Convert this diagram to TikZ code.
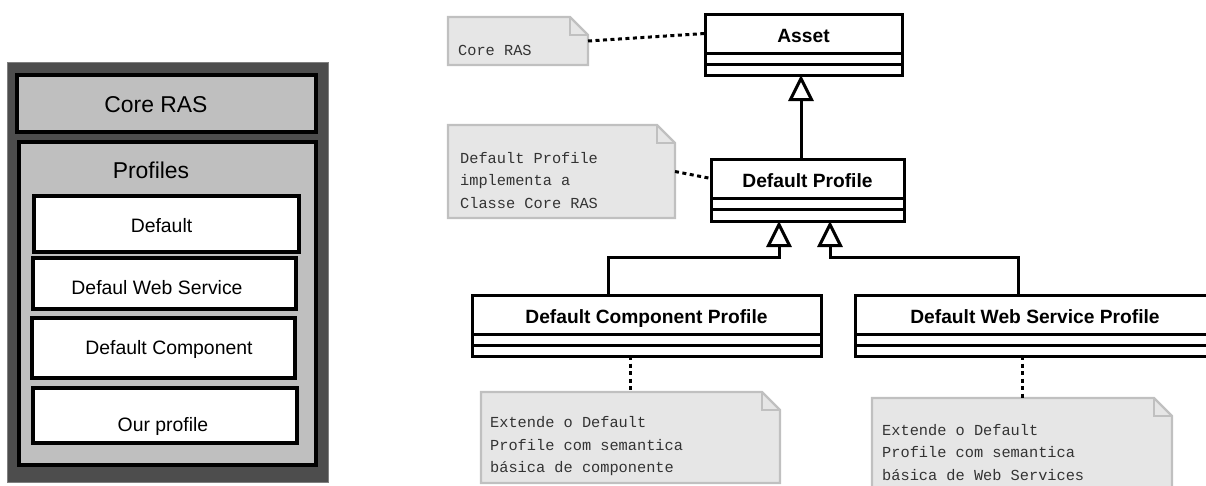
\documentclass[tikz,border=0pt]{standalone}
\usepackage{fontspec}
\setmainfont{Liberation Sans}
\newfontfamily\notefont{Liberation Mono}
\usetikzlibrary{arrows.meta}
\definecolor{paneldark}{HTML}{4D4D4D}
\definecolor{panellight}{HTML}{BFBFBF}
\definecolor{notefill}{HTML}{E6E6E6}
\definecolor{noteline}{HTML}{C0C0C0}
\definecolor{notetext}{HTML}{333333}
% folded-corner outline of a note node
\newcommand\drawnote[1]{%
  \draw[noteborder] (#1.north west) -- ([xshift=-18pt]#1.north east)
    -- ([yshift=-18pt]#1.north east) -- (#1.south east) -- (#1.south west) -- cycle;
  \draw[noteborder, fill=none] ([xshift=-18pt]#1.north east) |- ([yshift=-18pt]#1.north east);}
\begin{document}
\begin{tikzpicture}[x=1pt,y=-1pt,
  panelbox/.style={draw=black, line width=3.2pt, anchor=north west, inner sep=0pt, outer sep=0pt},
  paneltext/.style={anchor=base, inner sep=0pt, font=\fontsize{19.4pt}{23pt}\selectfont},
  paneltitle/.style={anchor=base, inner sep=0pt, font=\fontsize{22.9pt}{27pt}\selectfont},
  cls/.style={draw=black, fill=white, line width=3pt, anchor=north west, inner sep=0pt, outer sep=0pt},
  clsname/.style={cls, text height=17pt, text depth=0pt, font=\bfseries\fontsize{19.2pt}{23pt}\selectfont},
  notebox/.style={anchor=north west, inner sep=0pt, outer sep=0pt},
  noteborder/.style={draw=noteline, fill=notefill, line width=2.2pt, line join=miter},
  notetxt/.style={anchor=west, inner sep=0pt, align=left, text=notetext,
    font=\notefont\fontsize{15.3pt}{22.5pt}\selectfont},
  dotlink/.style={draw=black, line width=3pt, dash pattern=on 4pt off 3.5pt},
  gen/.style={draw=black, line width=3pt, line join=miter,
    -{Triangle[open, length=26pt, width=25pt]}}]
\useasboundingbox (0,0) rectangle (1206,485);
\clip (0,0) rectangle (1206,485);

% ---- layered view of RAS ----
\node[anchor=north west, inner sep=0pt, outer sep=0pt, fill=paneldark, draw=gray, line width=0.8pt,
  minimum width=321pt, minimum height=420pt] (panel) at (7,62) {};
\node[panelbox, fill=panellight, minimum width=299pt, minimum height=57pt] (coreBox) at (17,75) {};
\node[paneltitle] (coreTxt) at (156,112) {Core RAS};
\node[panelbox, fill=panellight, minimum width=297pt, minimum height=323pt] (profBox) at (19,142) {};
\node[paneltitle] (profTxt) at (151,178) {Profiles};
\node[panelbox, fill=white, minimum width=265pt, minimum height=56pt] (defBox) at (34,196) {};
\node[paneltext] (defTxt) at (161.5,232) {Default};
\node[panelbox, fill=white, minimum width=263pt, minimum height=51pt] (wsBox) at (33,258) {};
\node[paneltext] (wsTxt) at (157,294) {Defaul Web Service};
\node[panelbox, fill=white, minimum width=263pt, minimum height=60pt] (compBox) at (32,318) {};
\node[paneltext] (compTxt) at (169,354) {Default Component};
\node[panelbox, fill=white, minimum width=264pt, minimum height=55pt] (ourBox) at (33,388) {};
\node[paneltext] (ourTxt) at (163,431) {Our profile};

% ---- class diagram ----
\node[clsname, minimum width=197pt, minimum height=39pt] (assetN) at (705,14) {Asset};
\node[cls, minimum width=197pt, minimum height=11pt] (assetA) at (assetN.south west) {};
\node[cls, minimum width=197pt, minimum height=11pt] (assetO) at (assetA.south west) {};

\node[clsname, minimum width=193pt, minimum height=39pt] (dpN) at (711,159) {Default Profile};
\node[cls, minimum width=193pt, minimum height=11pt] (dpA) at (dpN.south west) {};
\node[cls, minimum width=193pt, minimum height=12pt] (dpO) at (dpA.south west) {};

\node[clsname, minimum width=349pt, minimum height=39pt] (compN) at (472,295) {Default Component Profile};
\node[cls, minimum width=349pt, minimum height=11pt] (compA) at (compN.south west) {};
\node[cls, minimum width=349pt, minimum height=11pt] (compO) at (compA.south west) {};

\node[clsname, minimum width=360pt, minimum height=39pt] (wsN) at (855,295) {Default Web Service Profile};
\node[cls, minimum width=360pt, minimum height=11pt] (wsA) at (wsN.south west) {};
\node[cls, minimum width=360pt, minimum height=11pt] (wsO) at (wsA.south west) {};

% notes
\node[notebox, minimum width=140pt, minimum height=48pt] (note1) at (448,17) {};
\drawnote{note1}
\node[notetxt] (note1t) at ([xshift=10pt,yshift=-9pt]note1.west) {Core RAS};

\node[notebox, minimum width=227pt, minimum height=93pt] (note2) at (448,125) {};
\drawnote{note2}
\node[notetxt] (note2t) at ([xshift=12pt,yshift=-9pt]note2.west) {Default Profile\\implementa a\\Classe Core RAS};

\node[notebox, minimum width=299pt, minimum height=91pt] (note3) at (481,392) {};
\drawnote{note3}
\node[notetxt] (note3t) at ([xshift=9pt,yshift=-9pt]note3.west) {Extende o Default\\Profile com semantica\\básica de componente};

\node[notebox, minimum width=300pt, minimum height=91pt] (note4) at (872,398) {};
\drawnote{note4}
\node[notetxt] (note4t) at ([xshift=10pt,yshift=-9pt]note4.west) {Extende o Default\\Profile com semantica\\básica de Web Services};

% note links
\draw[dotlink] (note1.east) -- (assetN.west);
\draw[dotlink] (note2.east) -- (dpN.west);
\draw[dotlink] (compO.south -| note3.north) -- (note3.north);
\draw[dotlink] (wsO.south -| note4.north) -- (note4.north);

% generalizations
\draw[gen] ([xshift=-6.5pt]dpN.north) -- ([xshift=-6.5pt]dpN.north |- assetO.south);
\coordinate (jl) at (779,257);
\coordinate (jr) at (830,257);
\draw[gen] ([xshift=-38.5pt]compN.north) |- (jl) -- (jl |- dpO.south);
\draw[gen] ([xshift=-17pt]wsN.north) |- (jr) -- (jr |- dpO.south);
\end{tikzpicture}
\end{document}
